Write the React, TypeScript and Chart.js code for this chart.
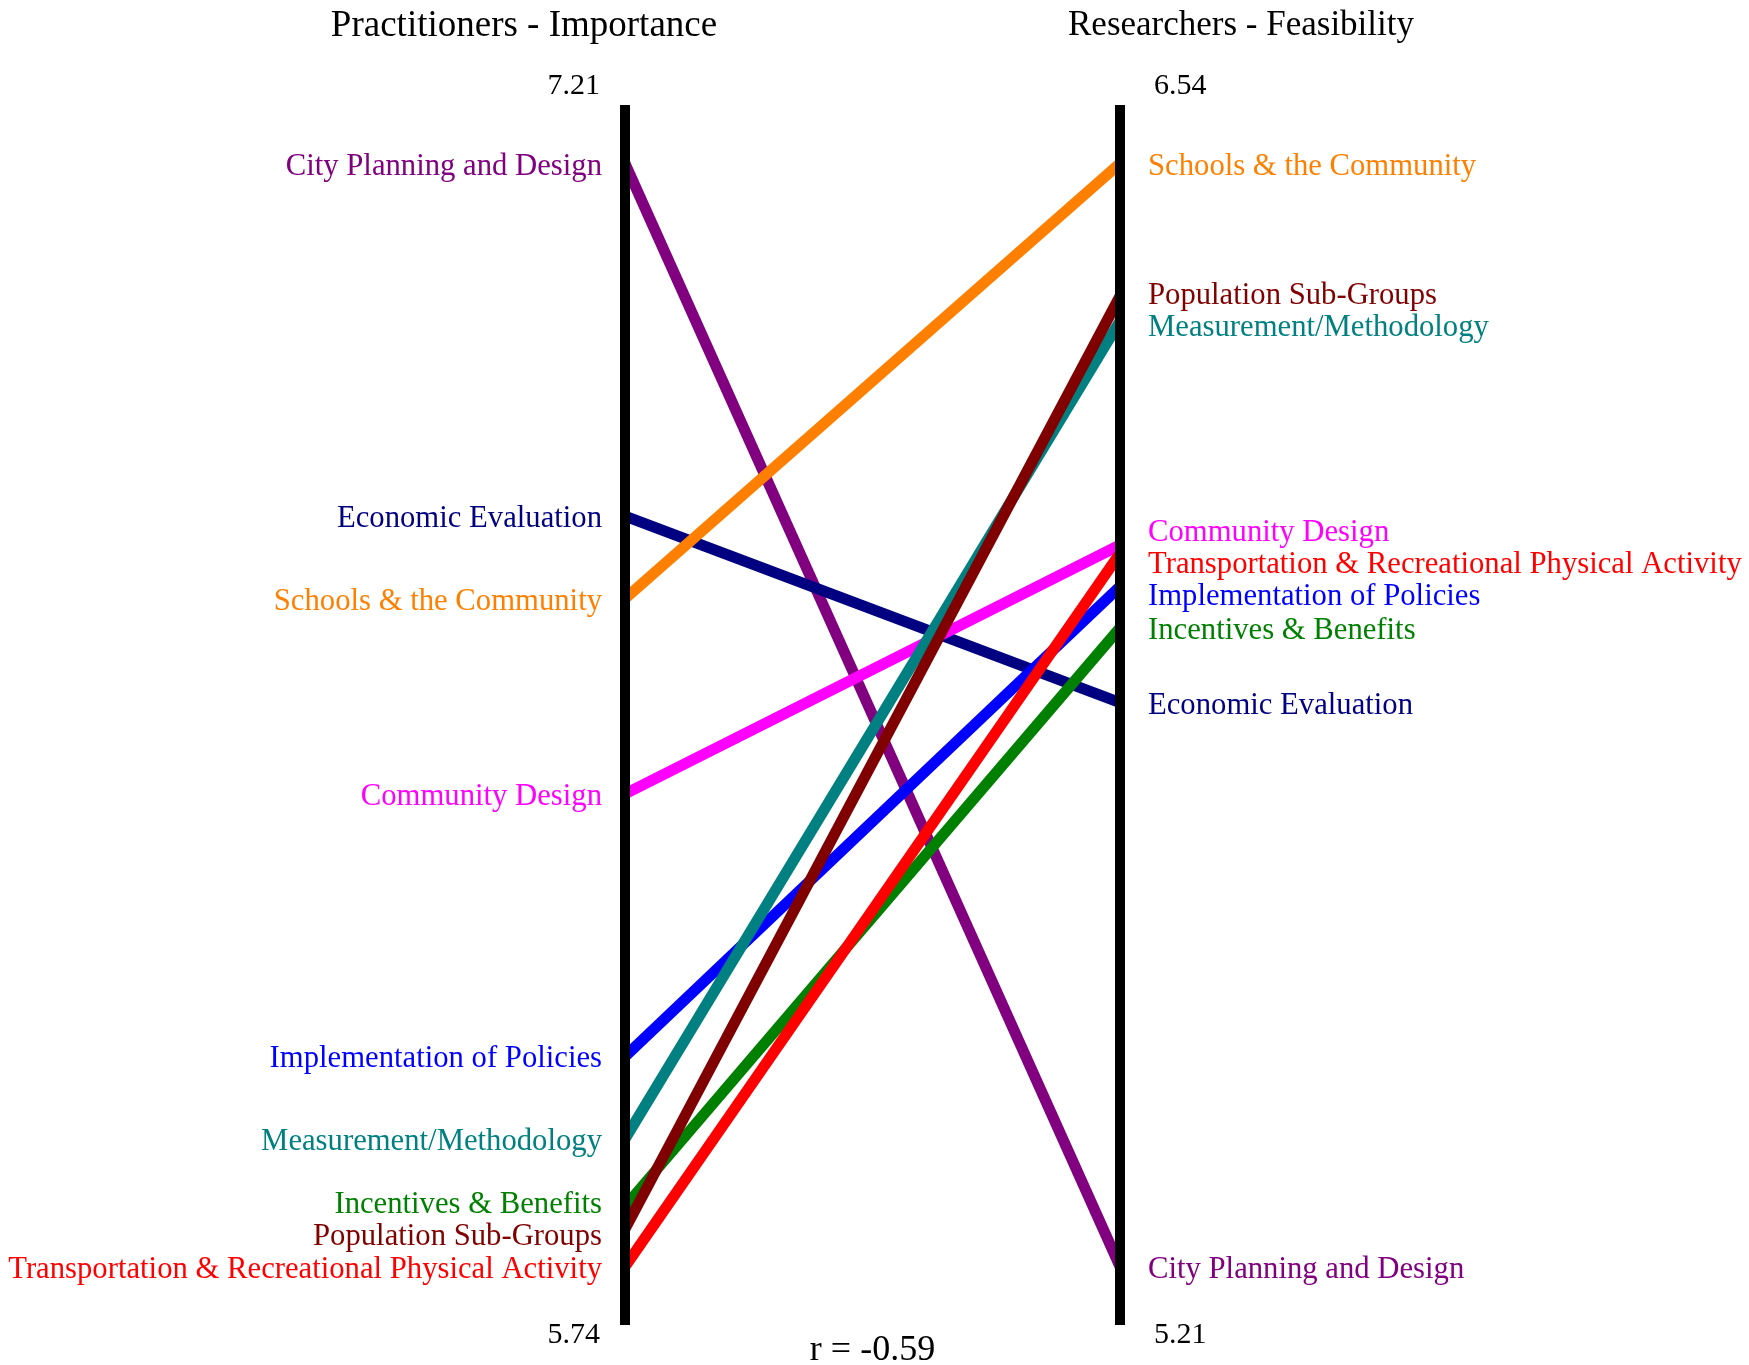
import React, { useEffect, useRef } from "react";
import { Chart, registerables } from "chart.js";

Chart.register(...registerables);

const categories = [
  "City Planning and Design",
  "Economic Evaluation",
  "Schools & the Community",
  "Community Design",
  "Implementation of Policies",
  "Measurement/Methodology",
  "Incentives & Benefits",
  "Population Sub-Groups",
  "Transportation & Recreational Physical Activity",
];
const practitionerImportance = [7.21, 6.74, 6.63, 6.37, 6.02, 5.91, 5.82, 5.79, 5.74];
const researcherFeasibility = [5.21, 5.89, 6.54, 6.08, 6.03, 6.35, 5.98, 6.38, 6.07];
const seriesColors = [
  "#800080",
  "#000080",
  "#FF8000",
  "#FF00FF",
  "#0000FF",
  "#008080",
  "#008000",
  "#800000",
  "#FF0000",
];
const axisTitles = ["Practitioners - Importance", "Researchers - Feasibility"];
const correlationLabel = "r = -0.59";

const FONT = '"Liberation Serif", "DejaVu Serif", serif';

function range(vals: number[]) {
  const mn = Math.min(...vals);
  const mx = Math.max(...vals);
  const pad = (mx - mn) * 0.053;
  return { min: mn - pad, max: mx + pad, dmin: mn, dmax: mx };
}

function repel(ys: number[], gap: number): number[] {
  const out = ys.slice();
  const order = out.map((_, i) => i);
  for (let it = 0; it < 200; it++) {
    let moved = false;
    order.sort((a, b) => out[a] - out[b]);
    for (let k = 0; k < order.length - 1; k++) {
      const a = order[k];
      const b = order[k + 1];
      const d = out[b] - out[a];
      if (d < gap) {
        const s = (gap - d) / 2;
        out[a] -= s;
        out[b] += s;
        moved = true;
      }
    }
    if (!moved) break;
  }
  return out;
}

const slopePlugin = {
  id: "slopePlugin",
  afterDatasetsDraw(chart: any) {
    const ctx = chart.ctx as CanvasRenderingContext2D;
    const x = chart.scales.x;
    const yL = chart.scales.yL;
    const yR = chart.scales.yR;
    const xl = x.getPixelForValue(0);
    const xr = x.getPixelForValue(1);
    const ds = chart.data.datasets;

    ctx.save();
    // segments
    ds.forEach((d: any) => {
      const p0 = yL.getPixelForValue(d.data[0]);
      const p1 = yR.getPixelForValue(d.data[1]);
      ctx.beginPath();
      ctx.lineCap = "butt";
      ctx.lineWidth = 11;
      ctx.strokeStyle = d.borderColor;
      ctx.moveTo(xl, p0);
      ctx.lineTo(xr, p1);
      ctx.stroke();
    });

    // axes
    ctx.fillStyle = "#000";
    const top = chart.chartArea.top;
    const bottom = chart.chartArea.bottom;
    ctx.fillRect(xl - 5, top, 10, bottom - top);
    ctx.fillRect(xr - 5, top, 10, bottom - top);

    // labels
    ctx.font = `30.7px ${FONT}`;
    ctx.textBaseline = "middle";
    const leftY = repel(ds.map((d: any) => yL.getPixelForValue(d.data[0])), 32);
    const rightY = repel(ds.map((d: any) => yR.getPixelForValue(d.data[1])), 32);
    ds.forEach((d: any, i: number) => {
      ctx.fillStyle = d.borderColor;
      ctx.textAlign = "right";
      ctx.fillText(d.label, xl - 23, leftY[i] + 3);
      ctx.textAlign = "left";
      ctx.fillText(d.label, xr + 28, rightY[i] + 3);
    });

    // range labels
    const rL = range(practitionerImportance);
    const rR = range(researcherFeasibility);
    ctx.font = `30px ${FONT}`;
    ctx.fillStyle = "#000";
    ctx.textAlign = "right";
    ctx.fillText(rL.dmax.toFixed(2), xl - 25, top - 19);
    ctx.fillText(rL.dmin.toFixed(2), xl - 25, bottom + 10);
    ctx.textAlign = "left";
    ctx.fillText(rR.dmax.toFixed(2), xr + 34, top - 19);
    ctx.fillText(rR.dmin.toFixed(2), xr + 34, bottom + 10);

    // titles
    ctx.font = `37px ${FONT}`;
    ctx.textAlign = "center";
    ctx.fillText(axisTitles[0], xl - 101, 26);
    ctx.font = `35px ${FONT}`;
    ctx.fillText(axisTitles[1], xr + 121, 26);
    ctx.font = `36px ${FONT}`;
    ctx.fillText(correlationLabel, (xl + xr) / 2, bottom + 26);
    ctx.restore();
  },
};

export default function App() {
  const ref = useRef<HTMLCanvasElement | null>(null);
  useEffect(() => {
    if (!ref.current) return;
    const rL = range(practitionerImportance);
    const rR = range(researcherFeasibility);
    const chart = new Chart(ref.current, {
      type: "line",
      data: {
        labels: ["Practitioners", "Researchers"],
        datasets: categories.map((c, i) => ({
          label: c,
          data: [practitionerImportance[i], researcherFeasibility[i]],
          borderColor: seriesColors[i],
          backgroundColor: seriesColors[i],
          showLine: false,
          pointRadius: 0,
          yAxisID: "yL",
        })),
      },
      options: {
        responsive: false,
        maintainAspectRatio: false,
        animation: false,
        devicePixelRatio: 1,
        layout: { padding: { left: 625, right: 629, top: 105, bottom: 40 } },
        plugins: { legend: { display: false }, tooltip: { enabled: false }, title: { display: false } },
        events: [],
        scales: {
          x: { type: "linear", min: 0, max: 1, display: false },
          yL: { type: "linear", position: "left", min: rL.min, max: rL.max, display: false },
          yR: { type: "linear", position: "right", min: rR.min, max: rR.max, display: false },
        },
      },
      plugins: [slopePlugin],
    } as any);
    return () => chart.destroy();
  }, []);
  return (
    <div style={{ position: "absolute", left: 0, top: 0, width: 1749, height: 1365, background: "#fff" }}>
      <canvas ref={ref} width={1749} height={1365} style={{ width: 1749, height: 1365, display: "block" }} />
    </div>
  );
}
